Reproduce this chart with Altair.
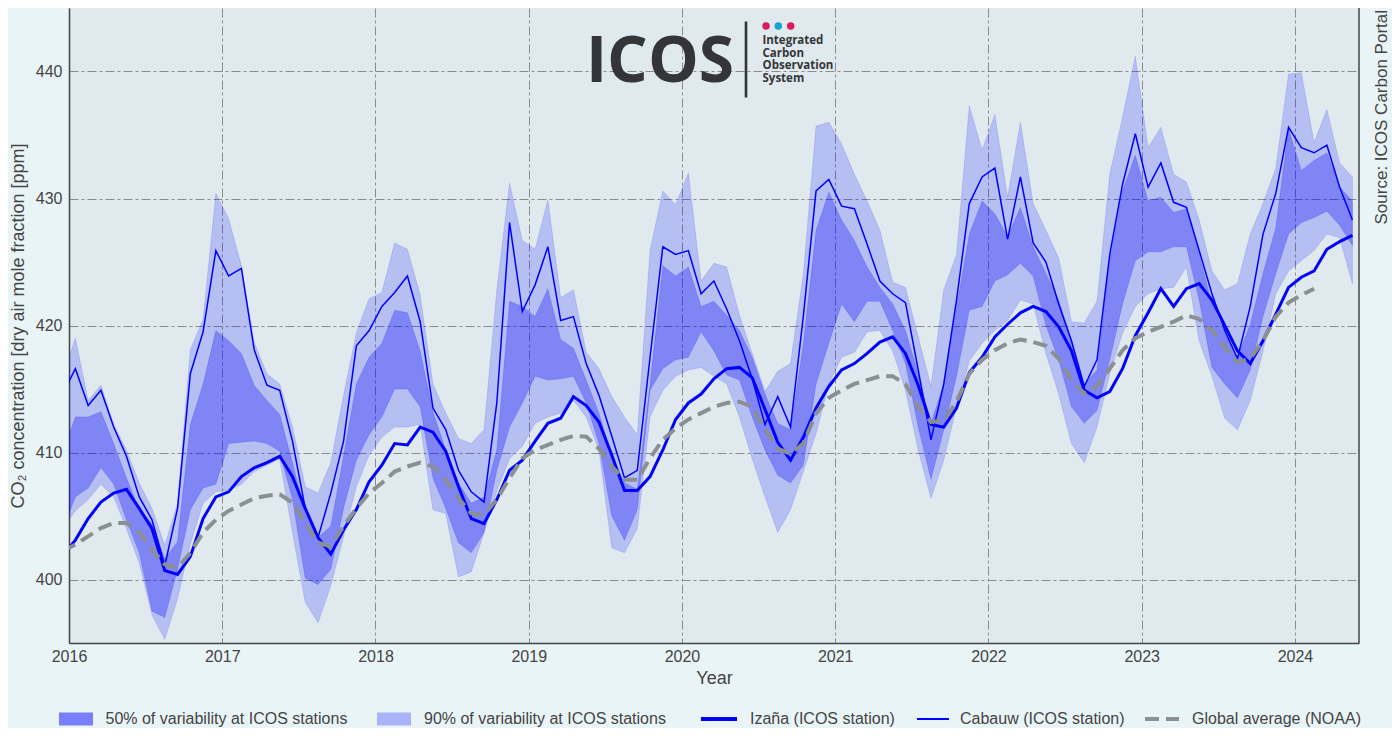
import altair as alt
import pandas as pd

# ---------------- data (monthly, mid-month; Dec 2015 .. May 2024) ----------------
all_months = [(y, m) for y in range(2015, 2025) for m in range(1, 13)]
months = all_months[11:11 + 102]            # 2015-12 ... 2024-05
t_vals = [y + (m - 0.5) / 12 for (y, m) in months]

izana = [401.9,
    403.1, 404.8, 406.1, 406.8, 407.1, 405.6, 404.0, 400.7, 400.4, 401.8, 404.8, 406.5,
    406.9, 408.1, 408.8, 409.2, 409.7, 408.1, 405.6, 403.3, 402.0, 403.9, 405.5, 407.7,
    409.0, 410.7, 410.6, 412.0, 411.6, 410.1, 407.3, 404.8, 404.4, 406.3, 408.6, 409.4,
    410.9, 412.3, 412.7, 414.4, 413.7, 412.4, 409.8, 407.0, 407.0, 408.1, 410.2, 412.6,
    413.9, 414.6, 415.8, 416.6, 416.7, 415.9, 413.4, 410.8, 409.4, 411.2, 413.5, 415.2,
    416.5, 417.0, 417.8, 418.7, 419.1, 417.8, 415.3, 412.2, 412.0, 413.5, 416.3, 417.5,
    419.1, 420.1, 421.0, 421.5, 421.1, 419.9, 418.0, 414.9, 414.3, 414.8, 416.6, 419.2,
    421.0, 422.9, 421.5, 422.9, 423.3, 422.0, 420.0, 418.0, 417.0, 418.8, 420.9, 423.0,
    423.8, 424.3, 426.0, 426.6, 427.1]

cabauw = [414.6,
    416.6, 413.7, 414.9, 412.0, 409.7, 406.5, 404.7, 401.1, 405.6, 416.2, 419.5, 425.9,
    423.9, 424.5, 418.1, 415.3, 414.9, 410.9, 405.6, 403.3, 406.8, 410.9, 418.4, 419.6,
    421.5, 422.6, 423.9, 420.3, 413.5, 411.8, 408.6, 406.9, 406.1, 413.9, 428.1, 421.1,
    423.2, 426.2, 420.4, 420.7, 417.0, 414.5, 411.3, 408.0, 408.6, 417.5, 426.2, 425.6,
    425.9, 422.5, 423.5, 421.3, 418.8, 415.8, 412.2, 414.4, 412.0, 420.7, 430.6, 431.5,
    429.4, 429.2, 426.4, 423.5, 422.5, 421.8, 416.5, 411.0, 415.4, 422.0, 429.6, 431.7,
    432.4, 426.8, 431.7, 426.5, 425.0, 421.7, 418.8, 415.2, 417.3, 425.6, 431.1, 435.1,
    430.9, 432.8, 429.7, 429.3, 425.9, 422.5, 419.6, 417.4, 421.5, 427.2, 430.4, 435.6,
    434.0, 433.6, 434.2, 430.9, 428.3]

p50_hi = [410.0,
    412.8, 412.8, 413.2, 410.7, 408.0, 405.5, 404.4, 401.6, 403.0, 412.2, 415.4, 419.6,
    418.8, 417.8, 415.3, 414.1, 413.0, 409.2, 405.2, 403.3, 404.2, 409.7, 415.4, 417.5,
    418.6, 421.2, 421.0, 418.0, 413.2, 410.2, 407.6, 406.0, 406.5, 410.2, 421.9, 421.5,
    420.7, 422.9, 418.9, 418.2, 415.7, 413.1, 409.7, 407.6, 407.1, 415.4, 424.7, 423.9,
    424.6, 421.5, 421.9, 420.8, 419.6, 417.5, 414.6, 412.3, 411.8, 418.5, 427.5, 430.5,
    428.3, 426.7, 424.6, 423.0, 421.7, 419.6, 416.2, 412.3, 415.4, 421.4, 427.2, 429.8,
    428.8, 427.0, 429.3, 426.2, 424.1, 422.0, 418.8, 415.4, 416.5, 425.1, 430.6, 433.4,
    429.8, 430.1, 428.9, 429.2, 425.6, 421.7, 419.4, 417.5, 420.1, 424.1, 427.7, 435.5,
    432.2, 433.0, 433.6, 430.9, 429.8]

p50_lo = [403.9,
    406.5, 407.2, 408.8, 407.5, 404.7, 402.1, 397.5, 397.0, 400.8, 405.5, 407.2, 407.5,
    410.7, 410.8, 410.9, 410.7, 410.1, 406.3, 400.1, 399.6, 400.8, 405.6, 409.4, 411.4,
    412.8, 415.0, 415.0, 413.6, 408.0, 405.6, 402.9, 402.1, 403.7, 408.6, 412.0, 413.9,
    416.0, 415.7, 415.8, 416.0, 413.9, 410.7, 405.0, 403.1, 405.5, 414.9, 416.6, 417.3,
    417.5, 419.5, 418.0, 416.1, 415.7, 412.8, 410.2, 408.2, 407.6, 409.0, 415.4, 418.6,
    421.7, 420.3, 421.9, 421.9, 419.6, 417.0, 412.0, 407.9, 411.8, 416.0, 421.2, 421.5,
    423.5, 424.0, 424.9, 423.9, 420.0, 417.3, 413.6, 412.3, 413.3, 417.3, 421.7, 425.1,
    425.8, 425.8, 426.2, 426.2, 422.0, 416.7, 415.4, 414.3, 416.5, 420.7, 424.1, 427.2,
    428.1, 428.5, 429.0, 427.9, 426.3]

p90_hi = [416.0,
    419.0, 414.1, 415.3, 412.2, 410.2, 407.6, 405.6, 402.7, 406.0, 418.1, 420.5, 430.4,
    428.4, 424.7, 418.7, 416.2, 415.4, 412.0, 407.3, 406.8, 409.2, 414.5, 419.4, 422.1,
    422.6, 426.5, 426.0, 422.4, 415.4, 413.1, 411.1, 410.7, 411.8, 422.8, 431.2, 426.7,
    426.0, 429.9, 422.2, 422.8, 417.9, 416.6, 414.4, 412.8, 411.4, 425.9, 430.6, 429.5,
    432.0, 423.5, 424.9, 424.6, 420.8, 417.8, 414.8, 416.4, 417.0, 424.0, 435.7, 436.0,
    434.3, 431.9, 429.8, 427.5, 423.4, 423.0, 419.1, 415.2, 422.8, 425.6, 437.3, 433.8,
    436.6, 430.1, 436.0, 429.6, 427.5, 425.3, 420.3, 420.2, 421.9, 431.9, 436.4, 441.2,
    434.0, 435.6, 431.9, 431.3, 428.3, 424.3, 422.8, 423.3, 427.2, 429.6, 432.4, 439.8,
    439.9, 434.4, 437.0, 432.8, 431.7]

p90_lo = [404.0,
    405.4, 406.3, 407.5, 406.5, 404.0, 401.3, 397.2, 395.3, 398.5, 402.8, 406.0, 406.9,
    407.0, 407.5, 408.5, 409.0, 409.5, 403.7, 398.2, 396.6, 399.5, 403.4, 407.3, 409.8,
    411.2, 412.0, 412.0, 412.2, 405.5, 405.2, 400.2, 400.6, 403.7, 407.0, 409.5, 410.5,
    412.3, 412.8, 413.1, 414.1, 412.8, 410.2, 402.5, 402.1, 404.0, 412.8, 414.9, 416.0,
    416.5, 416.7, 416.0, 415.4, 412.8, 409.5, 406.5, 403.7, 405.5, 408.5, 411.5, 415.4,
    417.5, 417.9, 419.5, 419.6, 418.0, 414.9, 410.2, 406.4, 409.4, 413.6, 417.2, 418.6,
    419.6, 420.4, 422.0, 421.7, 417.8, 414.6, 410.7, 409.2, 412.0, 416.2, 419.4, 421.5,
    422.5, 422.9, 423.0, 424.6, 418.8, 416.0, 412.7, 411.8, 414.1, 418.0, 422.5, 424.3,
    425.1, 425.9, 427.2, 426.9, 423.3]

noaa = [402.25,
    402.75, 403.4, 404.05, 404.45, 404.45, 403.7, 402.35, 401.2, 400.9, 402.1, 403.7, 404.7,
    405.4, 405.9, 406.4, 406.6, 406.7, 406.05, 404.45, 402.9, 402.6, 404.2, 405.6, 406.8,
    407.6, 408.5, 408.9, 409.2, 408.9, 407.85, 406.4, 405.2, 405.1, 406.3, 408.0, 409.55,
    410.2, 410.6, 411.0, 411.3, 411.25, 410.3, 408.9, 407.85, 407.85, 409.55, 411.0, 411.9,
    412.6, 413.1, 413.6, 413.9, 414.0, 413.6, 411.8, 410.3, 409.9, 410.7, 413.1, 414.3,
    414.9, 415.4, 415.7, 416.0, 416.0, 415.4, 413.6, 412.4, 412.5, 414.0, 416.2, 417.3,
    418.05, 418.6, 418.9, 418.7, 418.4, 417.4, 415.7, 414.65, 415.2, 416.6, 418.05, 419.0,
    419.5, 419.9, 420.3, 420.8, 420.5, 419.6, 418.3, 417.1, 417.4, 418.8, 420.7, 421.8,
    422.4, 422.9]

year_ticks = [2016, 2017, 2018, 2019, 2020, 2021, 2022, 2023, 2024]
ppm_ticks = [400, 410, 420, 430, 440]

legend_labels = ["50% of variability at ICOS stations", "90% of variability at ICOS stations",
                 "Izaña (ICOS station)", "Cabauw (ICOS station)", "Global average (NOAA)"]

df = pd.DataFrame({"t": t_vals, "iz": izana, "cb": cabauw,
                   "dhi": p50_hi, "dlo": p50_lo, "lhi": p90_hi, "llo": p90_lo})
df_noaa = pd.DataFrame({"t": t_vals[:len(noaa)], "noaa": noaa})

# ---------------- style ----------------
W, H = 1290, 635
FONT = "Liberation Sans"
TXT = "#444444"
BLUE = "#0000ff"
GRAY = "#8a8f92"
GRID = "#8c8c8c"

xscale = alt.Scale(domain=[2016, 2024.418], nice=False, zero=False)
yscale = alt.Scale(domain=[395, 445], nice=False, zero=False)

x_axis = alt.Axis(values=year_ticks, format="d", title="Year", grid=True,
                  gridColor=GRID, gridDash=[9, 3, 3, 3], gridWidth=1,
                  domainColor="#444444", domainWidth=1.5, ticks=False,
                  labelFontSize=16, labelColor=TXT, labelPadding=5, labelFlush=False,
                  labelOverlap=False, titleFontSize=18, titleColor=TXT,
                  titleFontWeight="normal", titleX=W / 2, titleY=35,
                  titleBaseline="middle", titleAlign="center")
y_axis = alt.Axis(values=ppm_ticks, format="d",
                  title="CO\u2082 concentration [dry air mole fraction [ppm]",
                  grid=True, gridColor=GRID, gridDash=[9, 3, 3, 3], gridWidth=1,
                  domainColor="#444444", domainWidth=1.5, ticks=False,
                  labelFontSize=16, labelColor=TXT, labelPadding=7, labelFlush=False,
                  titleFontSize=18, titleColor=TXT, titleFontWeight="normal",
                  titleX=-51, titleY=H / 2, titleAngle=270, titleAlign="center",
                  titleBaseline="middle")

X = alt.X("t:Q", scale=xscale, axis=x_axis)


def Y(field):
    return alt.Y(f"{field}:Q", scale=yscale, axis=y_axis)


base = alt.Chart(df)

band90 = base.mark_area(color=BLUE, fillOpacity=0.18, stroke=BLUE, strokeOpacity=0.12,
                        strokeWidth=1, clip=True).encode(x=X, y=Y("llo"), y2="lhi:Q")

band50 = base.mark_area(color=BLUE, fillOpacity=0.3, stroke=BLUE, strokeOpacity=0.15,
                        strokeWidth=1, clip=True).encode(x=X, y=Y("dlo"), y2="dhi:Q")

izana_line = base.mark_line(color=BLUE, strokeWidth=3, clip=True).encode(x=X, y=Y("iz"))

cabauw_line = base.mark_line(color=BLUE, strokeWidth=1.5, clip=True).encode(x=X, y=Y("cb"))

noaa_line = alt.Chart(df_noaa).mark_line(color=GRAY, strokeWidth=4, strokeDash=[14, 7],
                                         clip=True).encode(x=X, y=Y("noaa"))

one = pd.DataFrame({"k": [0]})
deco = []

# right frame line
deco.append(alt.Chart(one).mark_rule(color="#444444", strokeWidth=1.5).encode(
    x=alt.value(W), y=alt.value(0), y2=alt.value(H)))

# source text (rotated, right side)
deco.append(alt.Chart(one).mark_text(text="Source: ICOS Carbon Portal", font=FONT,
                                     fontSize=17, color=TXT, angle=270, align="right",
                                     baseline="middle").encode(
    x=alt.value(1313), y=alt.value(2)))

# ICOS logo
deco.append(alt.Chart(one).mark_text(text="ICOS", font="Open Sans", fontWeight="bold",
                                     fontSize=64, color="#333538", align="center",
                                     baseline="alphabetic").encode(
    x=alt.value(591), y=alt.value(73.5)))
deco.append(alt.Chart(one).mark_rule(color="#333538", strokeWidth=2.6).encode(
    x=alt.value(677), y=alt.value(13.5), y2=alt.value(89.5)))
for dx, col in [(697, "#d81b60"), (709.3, "#1aa3cc"), (721.7, "#d81b60")]:
    deco.append(alt.Chart(one).mark_point(shape="circle", filled=True, size=56, color=col,
                                          opacity=1).encode(
        x=alt.value(dx), y=alt.value(18)))
for i, word in enumerate(["Integrated", "Carbon", "Observation", "System"]):
    deco.append(alt.Chart(one).mark_text(text=word, font="Open Sans", fontWeight="bold",
                                         fontSize=11.5, color="#333538", align="left",
                                         baseline="middle").encode(
        x=alt.value(693.5), y=alt.value(33.0 + i * 12.6)))

# legend (drawn below the plot)
LY = 711
deco.append(alt.Chart(one).mark_rect(color=BLUE, opacity=0.48).encode(
    x=alt.value(-10), x2=alt.value(24), y=alt.value(LY - 6.5), y2=alt.value(LY + 6.5)))
deco.append(alt.Chart(one).mark_rect(color=BLUE, opacity=0.27).encode(
    x=alt.value(308), x2=alt.value(342), y=alt.value(LY - 6.5), y2=alt.value(LY + 6.5)))
deco.append(alt.Chart(one).mark_rule(color=BLUE, strokeWidth=4).encode(
    x=alt.value(632), x2=alt.value(668), y=alt.value(LY)))
deco.append(alt.Chart(one).mark_rule(color=BLUE, strokeWidth=2).encode(
    x=alt.value(848), x2=alt.value(880), y=alt.value(LY)))
deco.append(alt.Chart(one).mark_rule(color=GRAY, strokeWidth=4, strokeDash=[14, 7]).encode(
    x=alt.value(1076), x2=alt.value(1110), y=alt.value(LY)))
for lx, lab in zip([36.5, 355, 681, 891, 1123], legend_labels):
    deco.append(alt.Chart(one).mark_text(text=lab, font=FONT, fontSize=16, color=TXT,
                                         align="left", baseline="middle").encode(
        x=alt.value(lx), y=alt.value(LY)))

chart = alt.layer(band90, band50, izana_line, cabauw_line, noaa_line, *deco).properties(
    width=W, height=H,
    autosize=alt.AutoSizeParams(type="none"),
    padding={"left": 61, "top": 0, "right": 33, "bottom": 85},
    background="#e9f4f6",
).configure(font=FONT).configure_view(stroke=None, fill="#dfe9ee")

chart.save("out.html", embed_options={"renderer": "svg", "actions": False})
